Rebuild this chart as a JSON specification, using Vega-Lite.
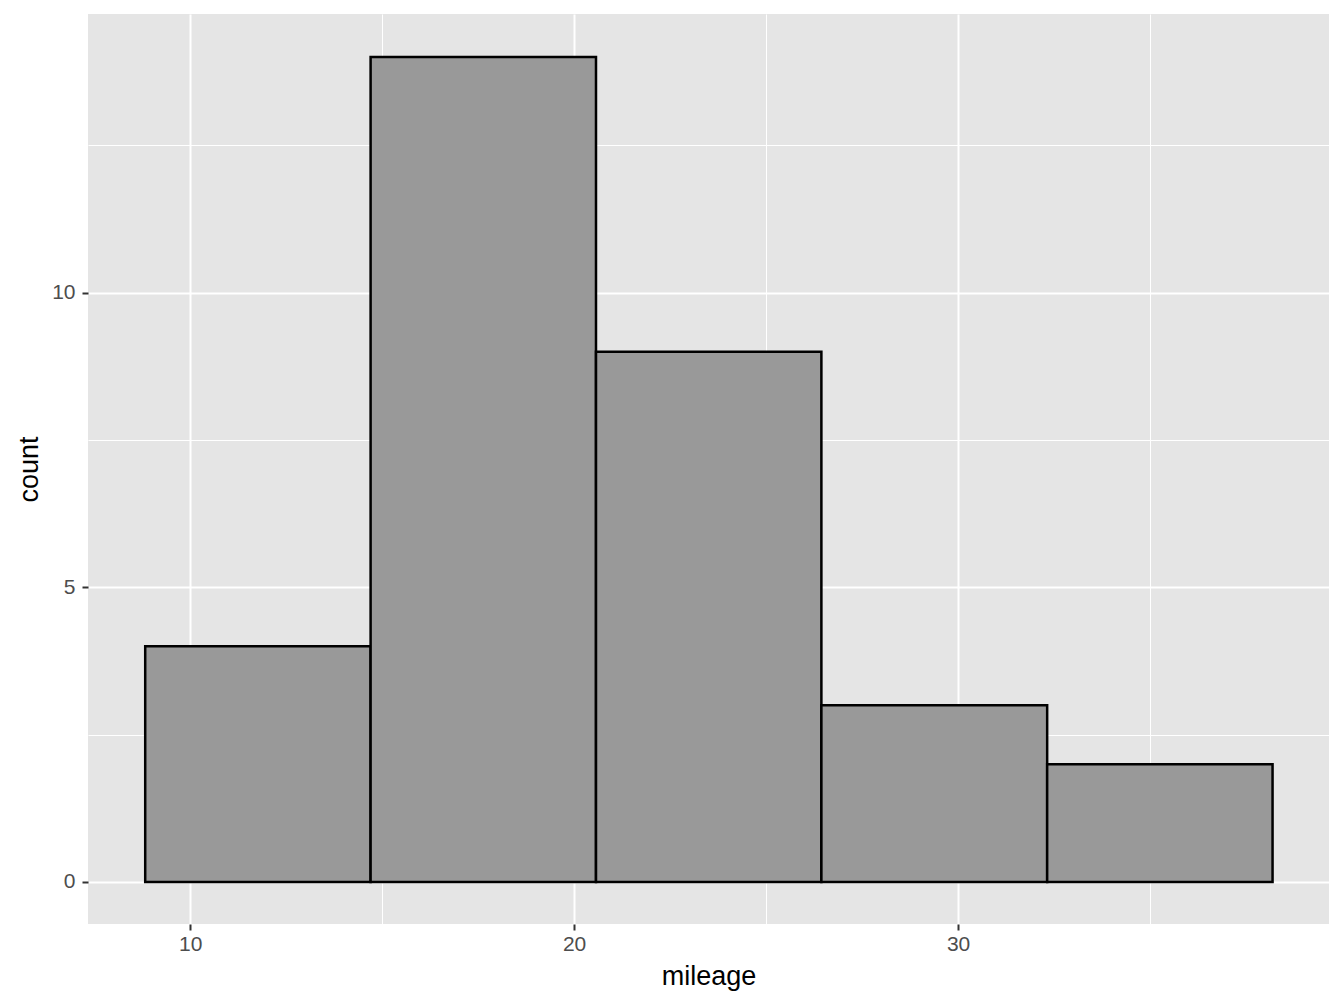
{
  "$schema": "https://vega.github.io/schema/vega-lite/v6.json",
  "width": 1241,
  "height": 910,
  "autosize": {"type": "none"},
  "padding": {"left": 88, "top": 14, "right": 15, "bottom": 84},
  "background": "white",
  "config": {
    "view": {"fill": "#E5E5E5", "stroke": null},
    "font": "Liberation Sans",
    "axis": {
      "domain": false,
      "gridColor": "white",
      "tickColor": "#333333",
      "tickWidth": 2,
      "tickSize": 6,
      "labelColor": "#4D4D4D",
      "labelFontSize": 21,
      "labelFont": "Liberation Sans",
      "titleFont": "Liberation Sans",
      "titleFontSize": 27,
      "titleFontWeight": "normal",
      "titleColor": "black"
    }
  },
  "data": {
    "values": [
      {"bin_start": 8.83, "bin_end": 14.70, "count": 4},
      {"bin_start": 14.70, "bin_end": 20.57, "count": 14},
      {"bin_start": 20.57, "bin_end": 26.44, "count": 9},
      {"bin_start": 26.44, "bin_end": 32.32, "count": 3},
      {"bin_start": 32.32, "bin_end": 38.19, "count": 2}
    ]
  },
  "layer": [
    {
      "mark": {"type": "rect", "opacity": 0},
      "encoding": {
        "x": {
          "field": "bin_start", "type": "quantitative",
          "scale": {"domain": [7.34, 39.66], "nice": false, "zero": false},
          "axis": {"orient": "top", "values": [15, 25, 35], "grid": true, "gridWidth": 1, "labels": false, "ticks": false, "title": null}
        },
        "x2": {"field": "bin_end"},
        "y": {
          "field": "count", "type": "quantitative",
          "scale": {"domain": [-0.713, 14.73], "nice": false, "zero": false},
          "axis": {"orient": "right", "values": [2.5, 7.5, 12.5], "grid": true, "gridWidth": 1, "labels": false, "ticks": false, "title": null}
        },
        "y2": {"datum": 0}
      }
    },
    {
      "mark": {"type": "rect", "fill": "#999999", "stroke": "black", "strokeWidth": 2.5},
      "encoding": {
        "x": {
          "field": "bin_start", "type": "quantitative",
          "axis": {"values": [10, 20, 30], "grid": true, "gridWidth": 2, "title": "mileage", "labelPadding": 3, "titlePadding": 9}
        },
        "x2": {"field": "bin_end"},
        "y": {
          "field": "count", "type": "quantitative",
          "axis": {"values": [0, 5, 10], "grid": true, "gridWidth": 2, "title": "count", "labelPadding": 7, "titlePadding": 8}
        },
        "y2": {"datum": 0}
      }
    }
  ],
  "resolve": {"axis": {"x": "independent", "y": "independent"}}
}
